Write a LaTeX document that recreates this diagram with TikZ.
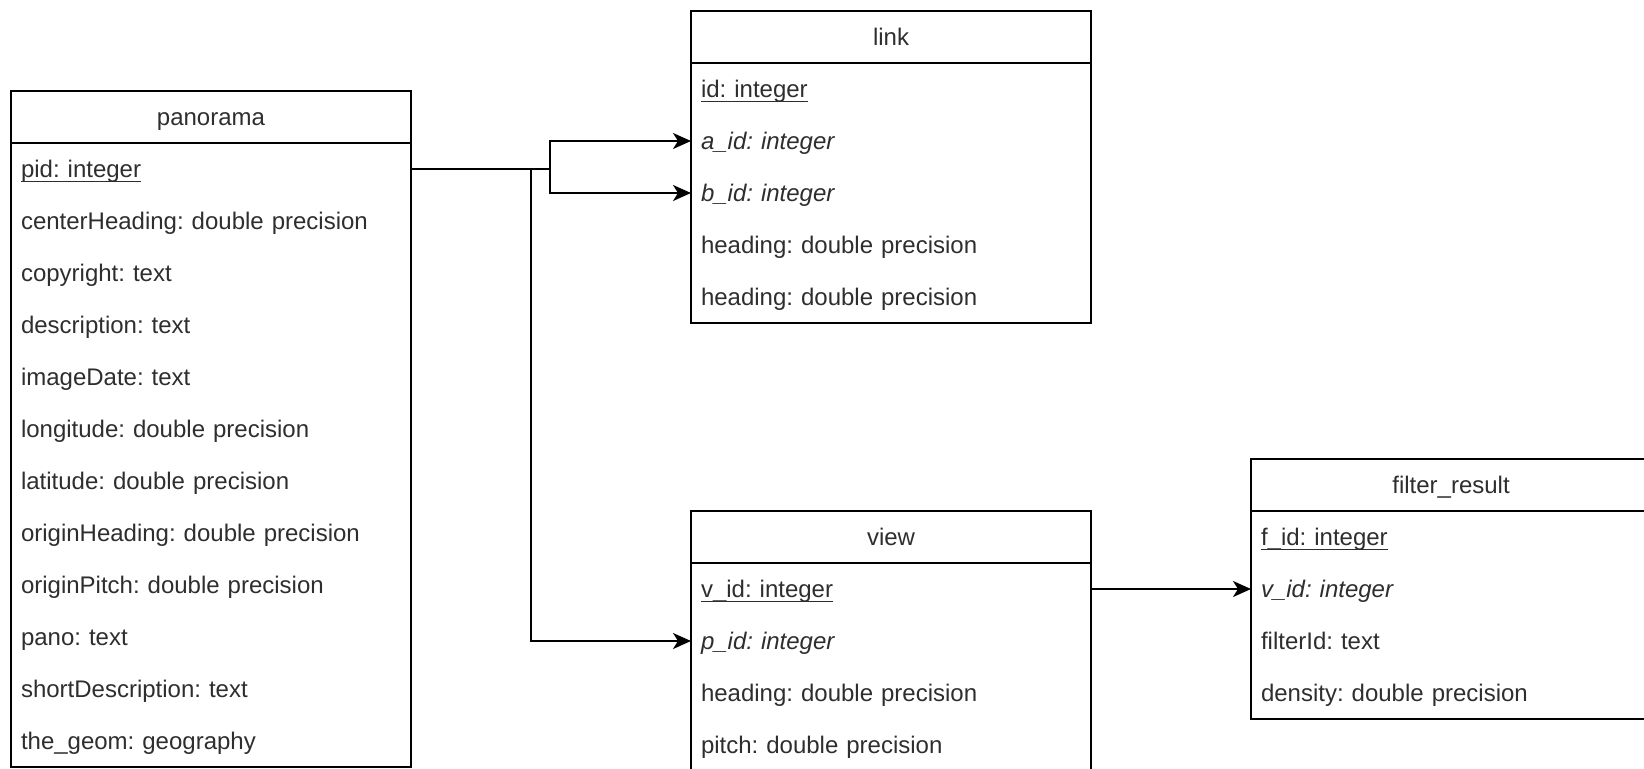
\documentclass[tikz,border=0pt]{standalone}
\usepackage{fontspec}
\setmainfont{Liberation Sans}
\usetikzlibrary{arrows.meta}
\newcommand{\keyul}[1]{\sbox0{#1}\rlap{\rule[-2.3pt]{\wd0}{0.6pt}}\usebox0}
\frenchspacing
\begin{document}
\begin{tikzpicture}[x=0.5pt,y=-0.5pt,
  tbl/.style={draw=black, line width=1pt, anchor=north west, minimum width=200pt, inner sep=0pt, outer sep=0pt},
  hdr/.style={anchor=north west, minimum width=200pt, minimum height=26pt, inner sep=0pt, outer sep=0pt,
    text height=8.6pt, text depth=0pt, font=\fontsize{12}{14}\selectfont\frenchspacing, text=black!82},
  rowbox/.style={anchor=north west, text width=190pt, inner xsep=5pt, inner ysep=0pt, outer sep=0pt,
    minimum height=26pt, align=left, text height=8.6pt, text depth=0pt,
    font=\fontsize{12}{14}\selectfont\frenchspacing, text=black!82},
  divline/.style={draw=black, line width=1pt},
  conn/.style={draw=black, line width=1pt},
  arr/.style={conn, -{Stealth[length=9pt,width=8pt,inset=2.5pt]}}
]
\useasboundingbox (0,0) rectangle (1644,768);
\clip (0,0) rectangle (1644,768);

% ---------- panorama ----------
\node[tbl, minimum height=338pt] (pano) at (11,91) {};
\node[hdr] (pano-h) at (11,91) {panorama};
\draw[divline] (pano-h.south west) -- (pano-h.south east);
\node[rowbox] (pano-pid) at (pano-h.south west) {\keyul{pid: integer}};
\node[rowbox] (pano-ch) at (pano-pid.south west) {centerHeading: double precision};
\node[rowbox] (pano-cr) at (pano-ch.south west) {copyright: text};
\node[rowbox] (pano-de) at (pano-cr.south west) {description: text};
\node[rowbox] (pano-id) at (pano-de.south west) {imageDate: text};
\node[rowbox] (pano-lo) at (pano-id.south west) {longitude: double precision};
\node[rowbox] (pano-la) at (pano-lo.south west) {latitude: double precision};
\node[rowbox] (pano-oh) at (pano-la.south west) {originHeading: double precision};
\node[rowbox] (pano-op) at (pano-oh.south west) {originPitch: double precision};
\node[rowbox] (pano-pa) at (pano-op.south west) {pano: text};
\node[rowbox] (pano-sd) at (pano-pa.south west) {shortDescription: text};
\node[rowbox] (pano-ge) at (pano-sd.south west) {the\_geom: geography};

% ---------- link ----------
\node[tbl, minimum height=156pt] (link) at (691,11) {};
\node[hdr] (link-h) at (691,11) {link};
\draw[divline] (link-h.south west) -- (link-h.south east);
\node[rowbox] (link-id) at (link-h.south west) {\keyul{id: integer}};
\node[rowbox] (link-aid) at (link-id.south west) {\textit{a\_id: integer}};
\node[rowbox] (link-bid) at (link-aid.south west) {\textit{b\_id: integer}};
\node[rowbox] (link-h1) at (link-bid.south west) {heading: double precision};
\node[rowbox] (link-h2) at (link-h1.south west) {heading: double precision};

% ---------- view ----------
\node[tbl, minimum height=130pt] (view) at (691,511) {};
\node[hdr] (view-h) at (691,511) {view};
\draw[divline] (view-h.south west) -- (view-h.south east);
\node[rowbox] (view-vid) at (view-h.south west) {\keyul{v\_id: integer}};
\node[rowbox] (view-pid) at (view-vid.south west) {\textit{p\_id: integer}};
\node[rowbox] (view-he) at (view-pid.south west) {heading: double precision};
\node[rowbox] (view-pi) at (view-he.south west) {pitch: double precision};

% ---------- filter_result ----------
\node[tbl, minimum height=130pt] (filt) at (1251,459) {};
\node[hdr] (filt-h) at (1251,459) {filter\_result};
\draw[divline] (filt-h.south west) -- (filt-h.south east);
\node[rowbox] (filt-fid) at (filt-h.south west) {\keyul{f\_id: integer}};
\node[rowbox] (filt-vid) at (filt-fid.south west) {\textit{v\_id: integer}};
\node[rowbox] (filt-fi) at (filt-vid.south west) {filterId: text};
\node[rowbox] (filt-de) at (filt-fi.south west) {density: double precision};

% ---------- connectors ----------
\coordinate (splitB) at (pano-pid.east -| 531,0);
\coordinate (splitA) at (pano-pid.east -| 550,0);
\draw[conn] (pano-pid.east) -- (splitA);
\draw[arr] (splitA) |- (link-aid.west);
\draw[arr] (splitA) |- (link-bid.west);
\draw[arr] (splitB) |- (view-pid.west);
\draw[arr] (view-vid.east) -- (filt-vid.west);
\end{tikzpicture}
\end{document}
